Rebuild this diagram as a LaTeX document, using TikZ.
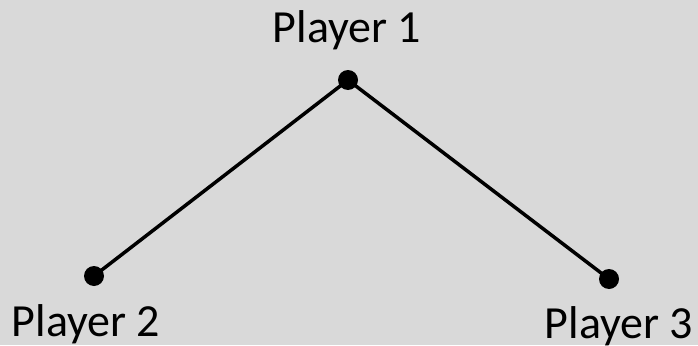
\documentclass[tikz,border=0pt]{standalone}
\usepackage{fontspec}
\setmainfont{Carlito}
\definecolor{bg}{HTML}{D9D9D9}
\begin{document}
\begin{tikzpicture}[x=1pt,y=-1pt,
  dot/.style={circle,fill=black,inner sep=0pt,minimum size=20pt},
  lbl/.style={anchor=base,inner sep=0pt,font=\fontsize{46}{50}\selectfont},
  edge/.style={line width=3.5pt}]
\fill[bg] (0,0) rectangle (698,345);
\useasboundingbox (0,0) rectangle (698,345);
\node[dot] (p1) at (348,80) {};
\node[dot] (p2) at (94,276) {};
\node[dot] (p3) at (609,279) {};
\draw[edge] (p1.center) -- (p2.center);
\draw[edge] (p1.center) -- (p3.center);
\node[lbl] (l1) at (347,42) {Player 1};
\node[lbl] (l2) at (86,336) {Player 2};
\node[lbl] (l3) at (619,338) {Player 3};
\end{tikzpicture}
\end{document}
